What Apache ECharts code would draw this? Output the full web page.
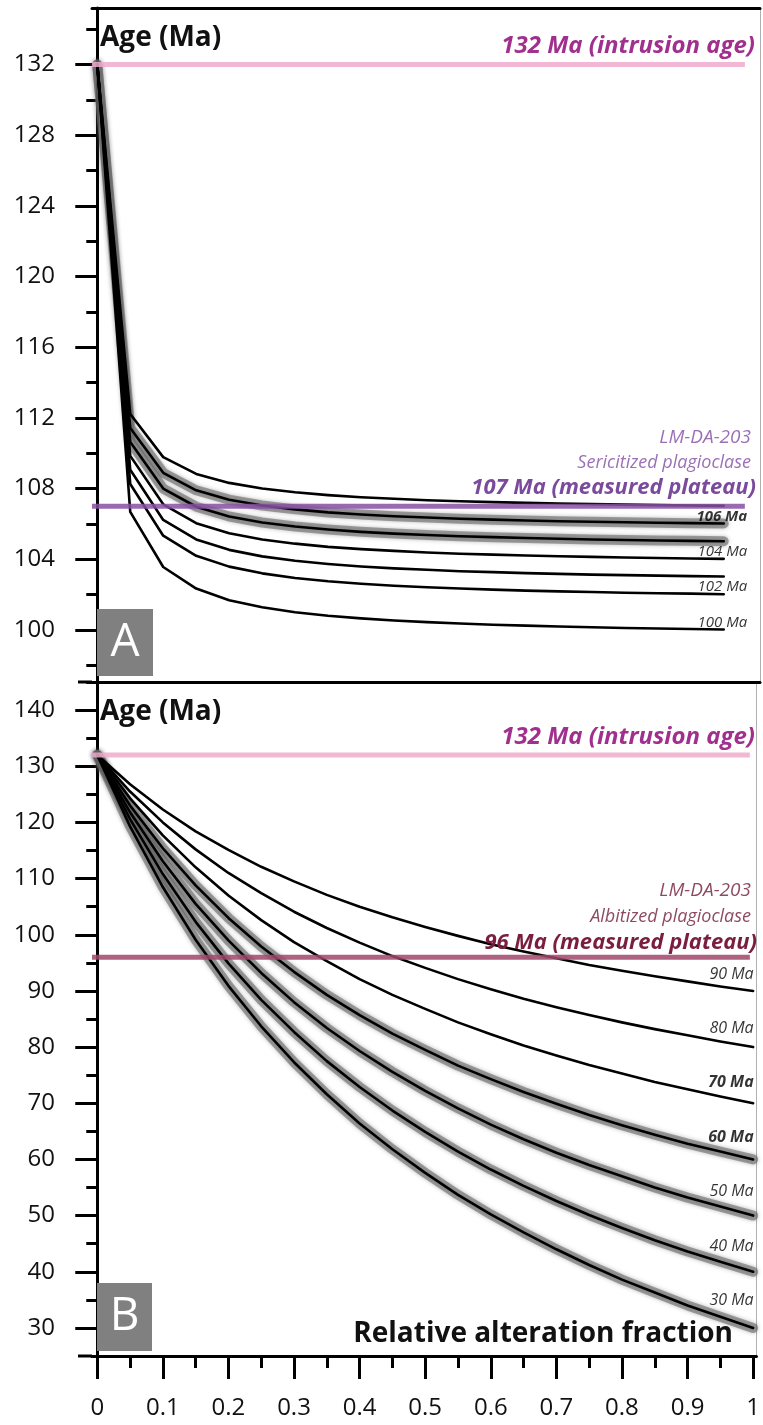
<!DOCTYPE html>
<html><head><meta charset="utf-8">
<script src="https://cdn.jsdelivr.net/npm/echarts@6/dist/echarts.min.js"></script>
<style>html,body{margin:0;padding:0;background:#fff}#c{width:763px;height:1425px}</style>
</head><body><div id="c"></div>
<script>
// ---------- DATA ----------
const fracA = [0,0.05,0.1,0.15,0.2,0.25,0.3,0.35,0.4,0.45,0.5,0.55,0.6,0.65,0.7,0.75,0.8,0.85,0.9,0.95];
const fracB = [0,0.05,0.1,0.15,0.2,0.25,0.3,0.35,0.4,0.45,0.5,0.55,0.6,0.65,0.7,0.75,0.8,0.85,0.9,0.95,1];

// Panel A (sericitized plagioclase) model curves, Ma
const curveA107 = [132,112.22,109.78,108.83,108.32,108.00,107.79,107.63,107.51,107.42,107.34,107.28,107.23,107.19,107.15,107.12,107.09,107.06,107.04,107.02];
const curveA106 = [132,111.43,108.89,107.90,107.37,107.04,106.82,106.65,106.53,106.43,106.36,106.29,106.24,106.19,106.15,106.12,106.09,106.06,106.04,106.02];
const curveA105 = [132,110.64,108.00,106.97,106.42,106.08,105.85,105.68,105.55,105.45,105.37,105.30,105.25,105.20,105.16,105.12,105.09,105.06,105.04,105.02];
const curveA104 = [132,109.85,107.11,106.04,105.47,105.12,104.88,104.70,104.57,104.47,104.38,104.31,104.26,104.21,104.17,104.13,104.10,104.07,104.04,104.02];
const curveA103 = [132,109.06,106.22,105.12,104.53,104.16,103.91,103.73,103.59,103.48,103.40,103.32,103.27,103.21,103.17,103.13,103.10,103.07,103.04,103.02];
const curveA102 = [132,108.26,105.33,104.19,103.58,103.20,102.94,102.75,102.61,102.50,102.41,102.34,102.28,102.22,102.18,102.14,102.10,102.07,102.05,102.02];
const curveA100 = [132,106.68,103.56,102.34,101.68,101.28,101.00,100.80,100.65,100.53,100.44,100.36,100.29,100.24,100.19,100.15,100.11,100.08,100.05,100.02];

// Panel B (albitized plagioclase) model curves, Ma
const curveB90 = [132,126.8,122.3,118.4,115.1,112.1,109.5,107.1,105.0,103.1,101.4,99.8,98.3,97.0,95.8,94.6,93.6,92.6,91.7,90.8,90];
const curveB80 = [132,125.5,120.0,115.2,111.0,107.4,104.1,101.2,98.6,96.2,94.1,92.1,90.3,88.6,87.1,85.7,84.4,83.2,82.1,81.0,80];
const curveB70 = [132,124.3,117.7,112.0,107.0,102.6,98.7,95.3,92.1,89.3,86.8,84.4,82.3,80.3,78.5,76.8,75.3,73.8,72.5,71.2,70];
const curveB60 = [132,123.0,115.4,108.8,103.0,97.9,93.4,89.3,85.7,82.4,79.5,76.7,74.3,72.0,69.9,67.9,66.1,64.4,62.8,61.4,60];
const curveB50 = [132,121.8,113.1,105.5,99.0,93.2,88.0,83.4,79.3,75.6,72.2,69.1,66.2,63.6,61.2,59.0,57.0,55.0,53.2,51.6,50];
const curveB40 = [132,120.6,110.8,102.3,94.9,88.4,82.7,77.5,72.9,68.7,64.9,61.4,58.2,55.3,52.6,50.1,47.8,45.6,43.6,41.8,40];
const curveB30 = [132,119.3,108.5,99.1,90.9,83.7,77.3,71.6,66.4,61.8,57.6,53.7,50.2,47.0,44.0,41.2,38.6,36.3,34.0,32.0,30];

// Reference ages
const intrusionAge = 132;
const plateauA = 107;
const plateauB = 96;
const refLineEndA = 0.982;
const refLineEndB = 0.995;

// Axis ticks / ranges
const xRange = [-0.008, 1.005];
const yRangeA = [97.05, 135.2];
const yRangeB = [25, 145];
const xTicksMajor = [0,0.1,0.2,0.3,0.4,0.5,0.6,0.7,0.8,0.9,1];
const xTicksMinor = [0.05,0.15,0.25,0.35,0.45,0.55,0.65,0.75,0.85,0.95];
const yTicksAMajor = [100,104,108,112,116,120,124,128,132];
const yTicksAMinor = [98,102,106,110,114,118,122,126,130,134];
const yTicksBMajor = [30,40,50,60,70,80,90,100,110,120,130,140];
const yTicksBMinor = [35,45,55,65,75,85,95,105,115,125,135,145];

// Curve labels
const curvesA = [
  {data: curveA107, halo: false, label: null},
  {data: curveA106, halo: true,  label: '106 Ma', bold: true},
  {data: curveA105, halo: true,  label: null},
  {data: curveA104, halo: false, label: '104 Ma'},
  {data: curveA103, halo: false, label: null},
  {data: curveA102, halo: false, label: '102 Ma'},
  {data: curveA100, halo: false, label: '100 Ma'}
];
const curvesB = [
  {data: curveB90, halo: false, label: '90 Ma', dy: -16},
  {data: curveB80, halo: false, label: '80 Ma', dy: -19},
  {data: curveB70, halo: false, label: '70 Ma', bold: true, dy: -21},
  {data: curveB60, halo: true,  label: '60 Ma', bold: true, dy: -22},
  {data: curveB50, halo: true,  label: '50 Ma', dy: -24},
  {data: curveB40, halo: true,  label: '40 Ma', dy: -25},
  {data: curveB30, halo: true,  label: '30 Ma', dy: -27}
];

// ---------- CHART ----------
const FONT = "'Open Sans', sans-serif";
const chart = echarts.init(document.getElementById('c'), null, {renderer: 'canvas'});

function pts(xs, ys) { return xs.map((x, i) => [x, ys[i]]); }

const lineAxis = {lineStyle: {color: '#000', width: 3}};
function xAxisDef(grid, pos, opt) {
  return Object.assign({
    type: 'value', gridIndex: grid, position: pos, min: xRange[0], max: xRange[1],
    axisLine: {show: false}, axisTick: {show: false}, axisLabel: {show: false}, splitLine: {show: false}
  }, opt);
}
function yAxisDef(grid, range, pos, opt) {
  return Object.assign({
    type: 'value', gridIndex: grid, position: pos, min: range[0], max: range[1],
    axisLine: {show: false}, axisTick: {show: false}, axisLabel: {show: false}, splitLine: {show: false}
  }, opt);
}
const tickLabelStyle = {fontSize: 24, fontFamily: FONT, color: '#111'};

const xAxes = [
  xAxisDef(0, 'bottom', {axisLine: lineAxis}),
  xAxisDef(0, 'top', {axisLine: lineAxis}),
  xAxisDef(1, 'bottom', {
    axisLine: lineAxis,
    axisTick: {show: true, length: 23, lineStyle: {color: '#000', width: 3}, customValues: xTicksMajor},
    axisLabel: Object.assign({show: true, margin: 40, customValues: xTicksMajor, formatter: v => String(+v.toFixed(2))}, tickLabelStyle)
  }),
  xAxisDef(1, 'bottom', {
    axisTick: {show: true, length: 12, lineStyle: {color: '#000', width: 3}, customValues: xTicksMinor}
  })
];
const yAxes = [
  yAxisDef(0, yRangeA, 'left', {
    axisLine: lineAxis,
    axisTick: {show: true, length: 22, lineStyle: {color: '#000', width: 3}, customValues: yTicksAMajor},
    axisLabel: Object.assign({show: true, margin: 37, customValues: yTicksAMajor}, tickLabelStyle)
  }),
  yAxisDef(0, yRangeA, 'left', {
    axisTick: {show: true, length: 11, lineStyle: {color: '#000', width: 3}, customValues: yTicksAMinor}
  }),
  yAxisDef(0, yRangeA, 'right', {axisLine: {show: true, lineStyle: {color: '#b0b0b0', width: 1}}}),
  yAxisDef(1, yRangeB, 'left', {
    axisLine: lineAxis,
    axisTick: {show: true, length: 22, lineStyle: {color: '#000', width: 3}, customValues: yTicksBMajor},
    axisLabel: Object.assign({show: true, margin: 37, customValues: yTicksBMajor}, tickLabelStyle)
  }),
  yAxisDef(1, yRangeB, 'left', {
    axisTick: {show: true, length: 11, lineStyle: {color: '#000', width: 3}, customValues: yTicksBMinor}
  }),
  yAxisDef(1, yRangeB, 'right', {axisLine: {show: true, lineStyle: {color: '#b0b0b0', width: 1}}})
];

const series = [];
function addPanel(curves, xs, xi, yi, labelOpt) {
  curves.forEach(c => {
    if (c.halo) series.push({
      type: 'line', xAxisIndex: xi, yAxisIndex: yi, data: pts(xs, c.data), showSymbol: false, silent: true,
      lineStyle: {color: 'rgba(95,95,95,0.55)', width: 10, shadowBlur: 4, shadowColor: 'rgba(90,90,90,0.7)', cap: 'round', join: 'round'}, z: 2
    });
  });
  curves.forEach(c => {
    series.push({
      type: 'line', xAxisIndex: xi, yAxisIndex: yi, data: pts(xs, c.data), showSymbol: false, silent: true,
      lineStyle: {color: '#000', width: 2.6, cap: 'round', join: 'round'}, z: 3
    });
  });
  const last = xs.length - 1;
  series.push({
    type: 'scatter', xAxisIndex: xi, yAxisIndex: yi, symbolSize: 1, silent: true,
    itemStyle: {color: 'rgba(0,0,0,0)'}, z: 6,
    data: curves.filter(c => c.label).map(c => ({
      value: [xs[last], c.data[last]],
      label: {
        show: true, formatter: c.label, position: 'left', distance: 0,
        offset: [labelOpt.dx, c.dy !== undefined ? c.dy : labelOpt.dy],
        fontFamily: FONT, fontStyle: 'italic', fontWeight: c.bold ? 'bold' : 'normal',
        fontSize: labelOpt.size, color: '#000'
      }
    }))
  });
}
addPanel(curvesA, fracA, 0, 0, {dx: 24, dy: -7, size: 15});
addPanel(curvesB, fracB, 2, 3, {dx: 1, dy: -18, size: 16});

function refLine(xi, yi, xEnd, val, color, width) {
  series.push({
    type: 'line', xAxisIndex: xi, yAxisIndex: yi, showSymbol: false, silent: true,
    data: [[xRange[0], val], [xEnd, val]],
    lineStyle: {color: color, width: width}, z: 4
  });
}
refLine(0, 0, refLineEndA, intrusionAge, 'rgba(240,170,205,0.85)', 5);
refLine(0, 0, refLineEndA, plateauA, 'rgba(135,80,165,0.85)', 5);
refLine(2, 3, refLineEndB, intrusionAge, 'rgba(240,170,205,0.85)', 5);
refLine(2, 3, refLineEndB, plateauB, 'rgba(160,70,105,0.85)', 5);

function txt(text, x, y, size, color, opts) {
  return Object.assign({
    type: 'text', z: 10, silent: true,
    style: Object.assign({
      text: text, x: x, y: y, fill: color, fontSize: size, fontFamily: FONT,
      textAlign: 'left', textVerticalAlign: 'middle'
    }, opts || {})
  });
}
const graphics = [
  // panel A annotations
  txt('Age (Ma)', 100, 38, 28, '#111', {fontWeight: 'bold'}),
  txt('132 Ma (intrusion age)', 755, 46, 24, '#a02f8e', {fontWeight: 'bold', fontStyle: 'italic', textAlign: 'right'}),
  txt('LM-DA-203', 751, 438, 19, '#9a70b6', {fontStyle: 'italic', textAlign: 'right'}),
  txt('Sericitized plagioclase', 751, 463, 18, '#9a70b6', {fontStyle: 'italic', textAlign: 'right'}),
  txt('107 Ma (measured plateau)', 756, 488, 22, '#7a4a9c', {fontWeight: 'bold', fontStyle: 'italic', textAlign: 'right'}),
  // panel B annotations
  txt('Age (Ma)', 100, 712, 28, '#111', {fontWeight: 'bold'}),
  txt('132 Ma (intrusion age)', 755, 737, 24, '#a02f8e', {fontWeight: 'bold', fontStyle: 'italic', textAlign: 'right'}),
  txt('LM-DA-203', 751, 891, 19, '#8e4a62', {fontStyle: 'italic', textAlign: 'right'}),
  txt('Albitized plagioclase', 751, 917, 18, '#8e4a62', {fontStyle: 'italic', textAlign: 'right'}),
  txt('96 Ma (measured plateau)', 757, 943, 22, '#7a1e40', {fontWeight: 'bold', fontStyle: 'italic', textAlign: 'right'}),
  txt('Relative alteration fraction', 733, 1334, 28, '#111', {fontWeight: 'bold', textAlign: 'right'}),
  // panel tags
  {type: 'rect', z: 9, silent: true, shape: {x: 97, y: 609, width: 56, height: 67}, style: {fill: '#808080'}},
  txt('A', 125, 643, 46, '#fff', {textAlign: 'center'}),
  {type: 'rect', z: 9, silent: true, shape: {x: 97, y: 1283, width: 55, height: 68}, style: {fill: '#808080'}},
  txt('B', 124.5, 1317, 46, '#fff', {textAlign: 'center'}),
  // short left extensions of the horizontal frame lines
  {type: 'line', z: 9, silent: true, shape: {x1: 78, y1: 682, x2: 92, y2: 682}, style: {stroke: '#000', lineWidth: 3}},
  {type: 'line', z: 9, silent: true, shape: {x1: 78, y1: 1356, x2: 92, y2: 1356}, style: {stroke: '#000', lineWidth: 3}}
];

chart.setOption({
  animation: false,
  backgroundColor: '#fff',
  grid: [
    {left: 92, right: 3, top: 8, height: 674},
    {left: 92, right: 3, top: 682, height: 674}
  ],
  xAxis: xAxes,
  yAxis: yAxes,
  series: series,
  graphic: graphics
});
</script>
</body></html>
